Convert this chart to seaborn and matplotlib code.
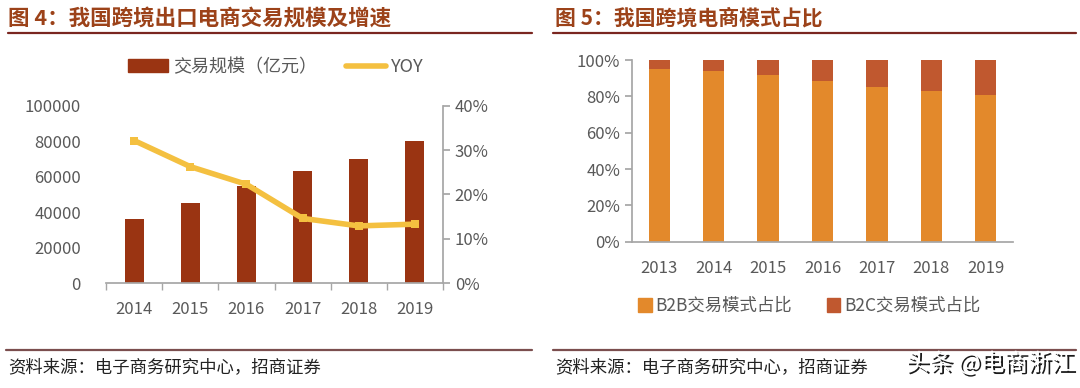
import matplotlib
matplotlib.use("Agg")
import matplotlib.pyplot as plt
import matplotlib.patheffects as pe
from matplotlib.lines import Line2D
from matplotlib.patches import Patch
from matplotlib.ticker import FuncFormatter
import seaborn as sns
import pandas as pd

# 图4 data
years_left = ["2014", "2015", "2016", "2017", "2018", "2019"]
trade_scale = [36000, 45000, 55000, 63000, 70000, 80000]   # 亿元
yoy = [32.2, 26.3, 22.3, 14.6, 12.9, 13.3]                 # %

# 图5 data
years_right = ["2013", "2014", "2015", "2016", "2017", "2018", "2019"]
b2b_share = [94.8, 93.7, 92.0, 88.6, 85.0, 83.2, 80.6]
b2c_share = [100 - v for v in b2b_share]

sns.set_theme(style="white")
plt.rcParams['font.family'] = ['Noto Sans CJK SC', 'DejaVu Sans']

BAR_RED = "#9A3412"
YOY_GOLD = "#F4C040"
B2B_ORANGE = "#E3892B"
B2C_RUST = "#C0582F"
TITLE_COL = "#9C4219"
RULE_COL = "#7A2620"
FOOT_RULE = "#7B4E4E"
TICK_COL = "#595959"
TICK_FS = 12

fig = plt.figure(figsize=(10.8, 3.88), dpi=100)

# titles and rules
fig.text(8 / 1080, 1 - 18 / 388, "图 4：我国跨境出口电商交易规模及增速", fontsize=15.5,
         fontweight="bold", color=TITLE_COL, va="center", ha="left")
fig.text(555 / 1080, 1 - 18 / 388, "图 5：我国跨境电商模式占比", fontsize=15,
         fontweight="bold", color=TITLE_COL, va="center", ha="left")
fig.add_artist(Line2D([8 / 1080, 532 / 1080], [1 - 33 / 388] * 2, color=RULE_COL, lw=1.6))
fig.add_artist(Line2D([553 / 1080, 1076 / 1080], [1 - 33 / 388] * 2, color=RULE_COL, lw=1.6))
fig.add_artist(Line2D([6 / 1080, 532 / 1080], [1 - 350 / 388] * 2, color=FOOT_RULE, lw=1.6))
fig.add_artist(Line2D([553 / 1080, 1076 / 1080], [1 - 350 / 388] * 2, color=FOOT_RULE, lw=1.6))
fig.text(8 / 1080, 1 - 367 / 388, "资料来源：电子商务研究中心，招商证券", fontsize=12.5,
         color="#222222", va="center", ha="left")
fig.text(555 / 1080, 1 - 367 / 388, "资料来源：电子商务研究中心，招商证券", fontsize=12.5,
         color="#222222", va="center", ha="left")
fig.text(1075 / 1080, 1 - 363 / 388, "头条 @电商浙江", fontsize=17, color="white",
         va="center", ha="right",
         path_effects=[pe.withSimplePatchShadow(offset=(1.5, -1.5), shadow_rgbFace="black", alpha=0.9)])

# ---- left chart ----
ax1 = fig.add_axes([106 / 1080, 1 - 283 / 388, 337 / 1080, 177 / 388])
df_left = pd.DataFrame({"year": years_left, "scale": trade_scale, "yoy": yoy})
sns.barplot(data=df_left, x="year", y="scale", color=BAR_RED, width=0.34,
            saturation=1, linewidth=0, ax=ax1, zorder=2)
ax1.set_ylim(0, 100000)
ax1.set_xlim(-0.5, len(years_left) - 0.5)
ax1.set_yticks(range(0, 100001, 20000))
ax1.set_xlabel("")
ax1.set_ylabel("")
for s in ["top", "right", "left"]:
    ax1.spines[s].set_visible(False)
ax1.spines["bottom"].set_color("#A6A6A6")
ax1.tick_params(axis="y", length=0, labelsize=TICK_FS, labelcolor=TICK_COL, pad=18)
ax1.tick_params(axis="x", length=0, labelsize=TICK_FS, labelcolor=TICK_COL, pad=13)
ax1.set_xticks([i - 0.5 for i in range(len(years_left) + 1)], minor=True)
ax1.tick_params(axis="x", which="minor", length=5, color="#A6A6A6", bottom=True)

ax2 = ax1.twinx()
sns.lineplot(data=df_left, x="year", y="yoy", color=YOY_GOLD, lw=4, marker="s",
             markersize=6, markeredgewidth=0, ax=ax2, zorder=3)
ax2.set_ylim(0, 40)
ax2.set_yticks(range(0, 41, 10))
ax2.yaxis.set_major_formatter(FuncFormatter(lambda v, p: f"{v:.0f}%"))
ax2.set_ylabel("")
for s in ["top", "left", "bottom"]:
    ax2.spines[s].set_visible(False)
ax2.spines["right"].set_color("#A6A6A6")
ax2.tick_params(axis="y", length=5, color="#A6A6A6", labelsize=TICK_FS, labelcolor=TICK_COL, right=True)
ax2.set_xlim(-0.5, len(years_left) - 0.5)

handles_left = [Patch(color=BAR_RED), Line2D([], [], color=YOY_GOLD, lw=4)]
fig.legend(handles_left, ["交易规模（亿元）", "YOY"], loc="center",
           bbox_to_anchor=(276 / 1080, 1 - 67 / 388), ncol=2, frameon=False,
           fontsize=13, labelcolor=TICK_COL, handlelength=2.2, columnspacing=1.6,
           handletextpad=0.3)

# ---- right chart ----
ax3 = fig.add_axes([632 / 1080, 1 - 241.7 / 388, 381 / 1080, 181.7 / 388])
df_right = pd.DataFrame({"year": years_right, "b2b": b2b_share, "b2c": b2c_share})
df_right["total"] = df_right["b2b"] + df_right["b2c"]
sns.barplot(data=df_right, x="year", y="total", color=B2C_RUST, width=0.39,
            saturation=1, linewidth=0, ax=ax3)
sns.barplot(data=df_right, x="year", y="b2b", color=B2B_ORANGE, width=0.39,
            saturation=1, linewidth=0, ax=ax3)
ax3.set_ylim(0, 100)
ax3.set_xlim(-0.5, len(years_right) - 0.5)
ax3.set_yticks(range(0, 101, 20))
ax3.yaxis.set_major_formatter(FuncFormatter(lambda v, p: f"{v:.0f}%"))
ax3.set_xlabel("")
ax3.set_ylabel("")
for s in ["top", "right"]:
    ax3.spines[s].set_visible(False)
ax3.spines["left"].set_color("#A6A6A6")
ax3.spines["bottom"].set_color("#A6A6A6")
ax3.tick_params(axis="y", length=5, color="#A6A6A6", labelsize=TICK_FS, labelcolor=TICK_COL, left=True)
ax3.tick_params(axis="x", length=0, labelsize=TICK_FS, labelcolor=TICK_COL, pad=13)

handles_right = [Patch(color=B2B_ORANGE), Patch(color=B2C_RUST)]
fig.legend(handles_right, ["B2B交易模式占比", "B2C交易模式占比"], loc="center",
           bbox_to_anchor=(809 / 1080, 1 - 306 / 388), ncol=2, frameon=False,
           fontsize=12.5, labelcolor=TICK_COL, handlelength=0.8, handleheight=0.8,
           columnspacing=2.0, handletextpad=0.2)

fig.savefig("out.png", dpi=100)
